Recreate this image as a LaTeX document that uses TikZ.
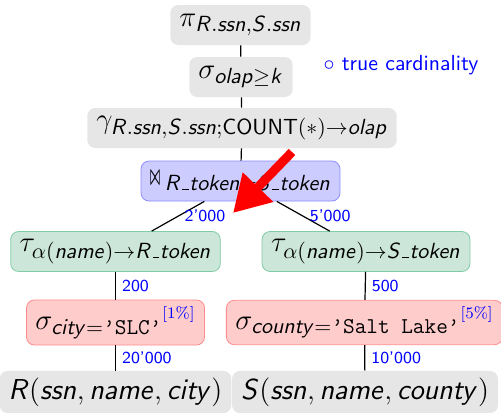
\documentclass[tikz,border=0pt]{standalone}
\usepackage{amsmath,amssymb}
\usepackage{graphicx}
\usepackage{tikz}
\usetikzlibrary{arrows.meta}
\renewcommand{\familydefault}{\sfdefault}
\DeclareMathSizes{14.4}{14.4}{11.3}{9}
\DeclareMathAlphabet{\mathsfit}{OT1}{cmss}{m}{sl}
\newcommand{\sv}[1]{\mathsfit{#1}}
\newcommand{\us}{\text{\kern.06em\vbox{\hrule width.3em}\kern.02em}}
\newcommand{\tq}{\textquoteright}
\newcommand{\joinsym}{\mathord{\resizebox{5pt}{6.5pt}{$\boldsymbol{\bowtie}$}}\,}
\newcommand{\pct}[1]{{}^{\mbox{\rmfamily\footnotesize\color{blue}[#1\%]}}}
\definecolor{relfill}{RGB}{230,230,230}
\definecolor{joinfill}{RGB}{204,204,255}
\definecolor{joindraw}{RGB}{140,140,255}
\definecolor{tokenfill}{RGB}{204,230,217}
\definecolor{tokendraw}{RGB}{128,204,166}
\definecolor{selfill}{RGB}{255,204,204}
\definecolor{seldraw}{RGB}{255,140,140}
\tikzset{
    relation/.style={fill=relfill, rounded corners=4pt, minimum height=20pt,
        inner xsep=4.5pt, font=\Large},
    joinop/.style={relation, fill=joinfill, draw=joindraw},
    tokenop/.style={relation, fill=tokenfill, draw=tokendraw},
    selop/.style={relation, fill=selfill, draw=seldraw},
    link/.style={draw=black, line width=0.6pt},
    card/.style={right, font=\fontsize{8.4}{10}\selectfont, text=blue, inner sep=3pt},
    legend/.style={font=\fontsize{10.9}{13}\selectfont, text=blue},
    pointer/.style={draw=red, line width=4.5pt, -{Triangle[length=18pt,width=20pt]}},
}
\begin{document}
\begin{tikzpicture}[x=0.5pt, y=-0.5pt]
    \useasboundingbox (0,0) rectangle (501,412);
    % plan, top to bottom
    \node[relation] (proj) at (240.5,25) {$\pi_{\sv{R.ssn},\sv{S.ssn}}$};
    \node[relation] (olap) at (241,77) {$\sigma_{\sv{olap}\geq\sv{k}}$};
    \node[relation] (group) at (242,128) {$\gamma_{\sv{R.ssn},\sv{S.ssn};\mathsf{COUNT}(\ast)\to\sv{olap}}$};
    \node[joinop] (join) at (240.5,181) {$\joinsym_{\sv{R\us token}=\sv{S\us token}}$};
    %
    \node[tokenop] (tokR) at (115.5,251.5) {$\tau_{\alpha(\sv{name})\to\sv{R\us token}}$};
    \node[tokenop] (tokS) at (366,251.5) {$\tau_{\alpha(\sv{name})\to\sv{S\us token}}$};
    %
    \node[selop] (selR) at (115.5,322.5) {$\sigma_{\sv{city}=\text{\ttfamily\tq SLC\tq}}\pct{1}$};
    \node[selop] (selS) at (364.5,322.5) {$\sigma_{\sv{county}=\text{\ttfamily\tq Salt Lake\tq}}\pct{5}$};
    %
    \node[relation] (relR) at (115.5,392) {$\sv{R}(\sv{ssn},\sv{name},\sv{city})$};
    \node[relation] (relS) at (365,392) {$\sv{S}(\sv{ssn},\sv{name},\sv{county})$};
    %
    \node[legend] (truecard) at (401,65) {$\circ$ true cardinality};
    %
    \draw[link] (proj) -- (olap);
    \draw[link] (olap) -- (group);
    \draw[link] (group) -- (join);
    \draw[link] (join) -- node[card] {2'000} (tokR);
    \draw[link] (join) -- node[card] {5'000} (tokS);
    \draw[link] (tokR) -- node[card] {200} (selR);
    \draw[link] (tokS) -- node[card] {500} (selS);
    \draw[link] (selR) -- node[card] {20'000} (relR);
    \draw[link] (selS) -- node[card] {10'000} (relS);
    %
    \coordinate (tail) at (292,152);
    \coordinate (tip) at (233,213);
    \draw[pointer] (tail) -- (tip);
\end{tikzpicture}
\end{document}
